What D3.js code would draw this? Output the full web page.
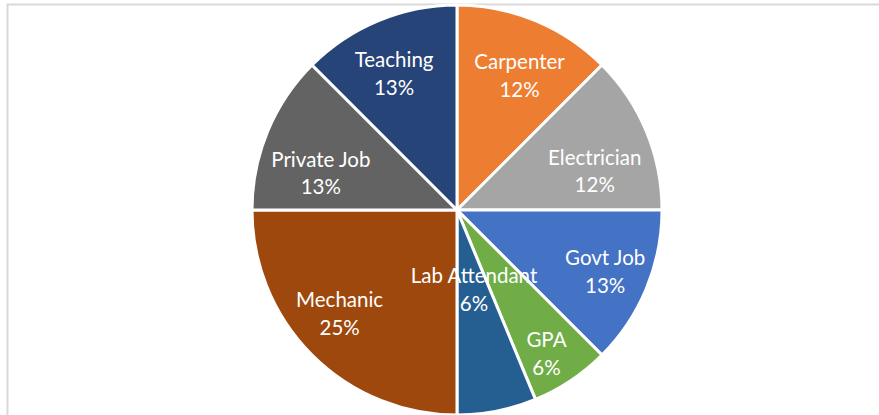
<!DOCTYPE html>
<html lang="en">
<head>
<meta charset="utf-8" />
<title>Career choice pie</title>
<script src="https://cdn.jsdelivr.net/npm/d3@7"></script>
<style>
  body { margin: 0; background: #ffffff; }
  svg { display: block; }
  .lbl { font-family: Lato, "Open Sans", sans-serif; font-size: 20.5px; fill: #ffffff; }
</style>
</head>
<body>
<script>
// ---- data (clockwise from 12 o'clock) ----
var categories = ["Carpenter", "Electrician", "Govt Job", "GPA", "Lab Attendant", "Mechanic", "Private Job", "Teaching"];
var counts = [2, 2, 2, 1, 1, 4, 2, 2];
var pctLabels = ["12%", "12%", "13%", "6%", "6%", "25%", "13%", "13%"];
var colors = ["#ED7D31", "#A5A5A5", "#4472C4", "#70AD47", "#255E91", "#9E480E", "#636363", "#264478"];

// label placement, excel style (radius fraction, angle nudge in degrees)
var labelRadius = [0.73, 0.70, 0.78, 0.82, 0.39, 0.76, 0.69, 0.74];
var labelNudge = [2.2, 6.2, -0.4, 1.6, -1.0, 3.9, -6.8, -2.0];

var width = 879, height = 415;
var cx = 457, cy = 210, radius = 205;

var svg = d3.select("body").append("svg")
    .attr("width", width)
    .attr("height", height);

// chart area border
svg.append("rect")
    .attr("x", 7.5)
    .attr("y", 4.5)
    .attr("width", 1000)
    .attr("height", 1000)
    .attr("fill", "none")
    .attr("stroke", "#d9d9d9")
    .attr("stroke-width", 2);

var pie = d3.pie().sort(null).value(function(d) { return d; });
var arcs = pie(counts);

var arc = d3.arc().innerRadius(0).outerRadius(radius);

var g = svg.append("g").attr("transform", "translate(" + cx + "," + cy + ")");

g.selectAll("path.slice")
    .data(arcs)
    .enter()
    .append("path")
    .attr("class", "slice")
    .attr("d", arc)
    .attr("fill", function(d, i) { return colors[i]; })
    .attr("stroke", "#ffffff")
    .attr("stroke-width", 3)
    .attr("stroke-linejoin", "round");

var labels = g.selectAll("text.lbl")
    .data(arcs)
    .enter()
    .append("text")
    .attr("class", "lbl")
    .attr("text-anchor", "middle")
    .attr("transform", function(d, i) {
        var a = (d.startAngle + d.endAngle) / 2 + labelNudge[i] * Math.PI / 180;
        var r = radius * labelRadius[i];
        return "translate(" + (r * Math.sin(a)) + "," + (-r * Math.cos(a)) + ")";
    });

labels.append("tspan")
    .attr("x", 0)
    .attr("dy", "-0.25em")
    .text(function(d, i) { return categories[i]; });

labels.append("tspan")
    .attr("x", 0)
    .attr("dy", "1.35em")
    .text(function(d, i) { return pctLabels[i]; });
</script>
</body>
</html>
